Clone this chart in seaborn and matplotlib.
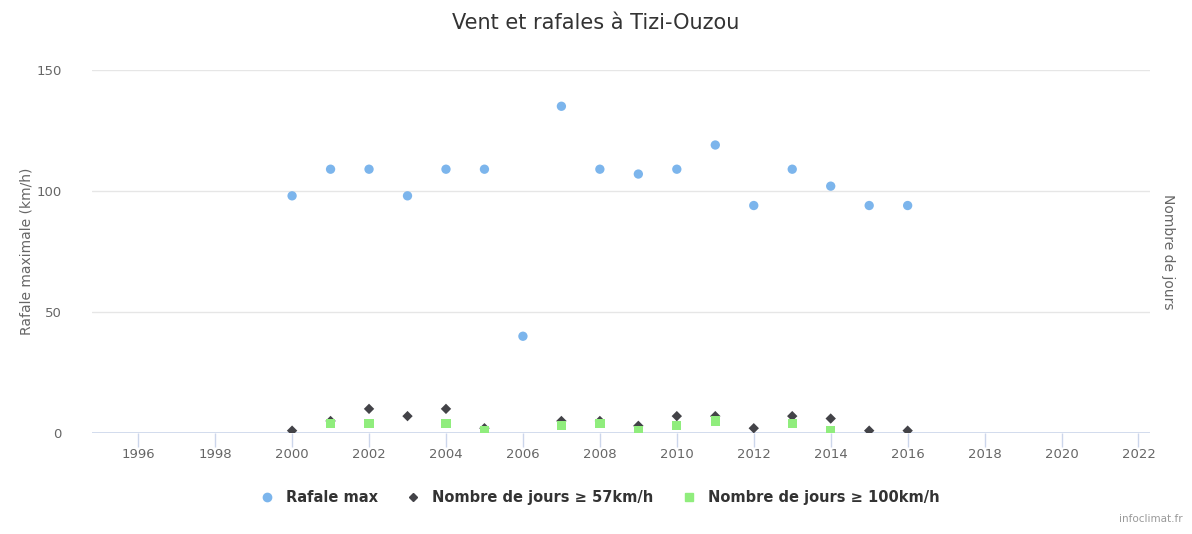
import matplotlib
matplotlib.use("Agg")
import matplotlib.pyplot as plt
from matplotlib.lines import Line2D
import seaborn as sns
import pandas as pd

# Data
years_rafale = [2000, 2001, 2002, 2003, 2004, 2005, 2006, 2007, 2008,
                2009, 2010, 2011, 2012, 2013, 2014, 2015, 2016]
rafale_max = [98, 109, 109, 98, 109, 109, 40, 135, 109,
              107, 109, 119, 94, 109, 102, 94, 94]

years_57 = [2000, 2001, 2002, 2003, 2004, 2005, 2007, 2008, 2009,
            2010, 2011, 2012, 2013, 2014, 2015, 2016]
jours_57 = [1, 5, 10, 7, 10, 2, 5, 5, 3, 7, 7, 2, 7, 6, 1, 1]

years_100 = [2001, 2002, 2004, 2005, 2007, 2008, 2009, 2010, 2011, 2013, 2014]
jours_100 = [4, 4, 4, 1, 3, 4, 1, 3, 5, 4, 1]

x_ticks = list(range(1996, 2023, 2))
y_ticks = [0, 50, 100, 150]

blue = "#7cb5ec"
dark = "#434348"
green = "#90ed7d"

sns.set_theme(style="white")
plt.rcParams['font.family'] = ['DejaVu Sans']

df_raf = pd.DataFrame({"annee": years_rafale, "val": rafale_max})
df_57 = pd.DataFrame({"annee": years_57, "val": jours_57})
df_100 = pd.DataFrame({"annee": years_100, "val": jours_100})

fig = plt.figure(figsize=(11.92, 5.34), dpi=100)
ax = fig.add_axes([0.0772, 0.189, 0.8876, 0.68])
ax2 = ax.twinx()

sns.scatterplot(data=df_raf, x="annee", y="val", ax=ax, color=blue,
                marker="o", s=45, edgecolor="none", zorder=3)
sns.scatterplot(data=df_57, x="annee", y="val", ax=ax2, color=dark,
                marker="D", s=28, edgecolor="none", zorder=3)
sns.scatterplot(data=df_100, x="annee", y="val", ax=ax2, color=green,
                marker="s", s=45, edgecolor="none", zorder=4)

for a in (ax, ax2):
    a.set_xlim(1994.8, 2022.3)
    a.set_ylim(0, 150)
    for s in a.spines.values():
        s.set_visible(False)

ax.set_yticks(y_ticks)
ax.set_xticks(x_ticks)
ax.grid(axis="y", color="#e6e6e6", linewidth=1)
ax.grid(axis="x", visible=False)
ax.axhline(0, color="#ccd6eb", linewidth=1.2, zorder=2)
ax.tick_params(axis="y", length=0, labelsize=9.5, labelcolor="#666666", pad=22)
ax.tick_params(axis="x", length=10, width=1, color="#ccd6eb", direction="out",
               labelsize=9.5, labelcolor="#666666", pad=1, bottom=True)
ax.set_xlabel("")
ax.set_ylabel("Rafale maximale (km/h)", fontsize=10, color="#666666", labelpad=2)

ax2.set_yticks([])
ax2.set_ylabel("Nombre de jours", fontsize=10, color="#666666",
               rotation=270, labelpad=18)
ax2.yaxis.set_label_position("right")

fig.suptitle("Vent et rafales à Tizi-Ouzou", x=0.5, y=0.975,
             fontsize=15, color="#333333")

handles = [
    Line2D([], [], linestyle="none", marker="o", color=blue, markersize=6),
    Line2D([], [], linestyle="none", marker="D", color=dark, markersize=4.5),
    Line2D([], [], linestyle="none", marker="s", color=green, markersize=6),
]
labels = ["Rafale max", "Nombre de jours ≥ 57km/h", "Nombre de jours ≥ 100km/h"]
leg = fig.legend(handles, labels, loc="center", bbox_to_anchor=(0.5, 0.069),
                 ncol=3, frameon=False, handletextpad=0.3, columnspacing=1.4,
                 prop={"weight": "bold", "size": 10.5})
for t in leg.get_texts():
    t.set_color("#333333")

fig.text(0.992, 0.018, "infoclimat.fr", ha="right", va="bottom",
         fontsize=7.5, color="#999999")

fig.savefig("out.png", dpi=100)
